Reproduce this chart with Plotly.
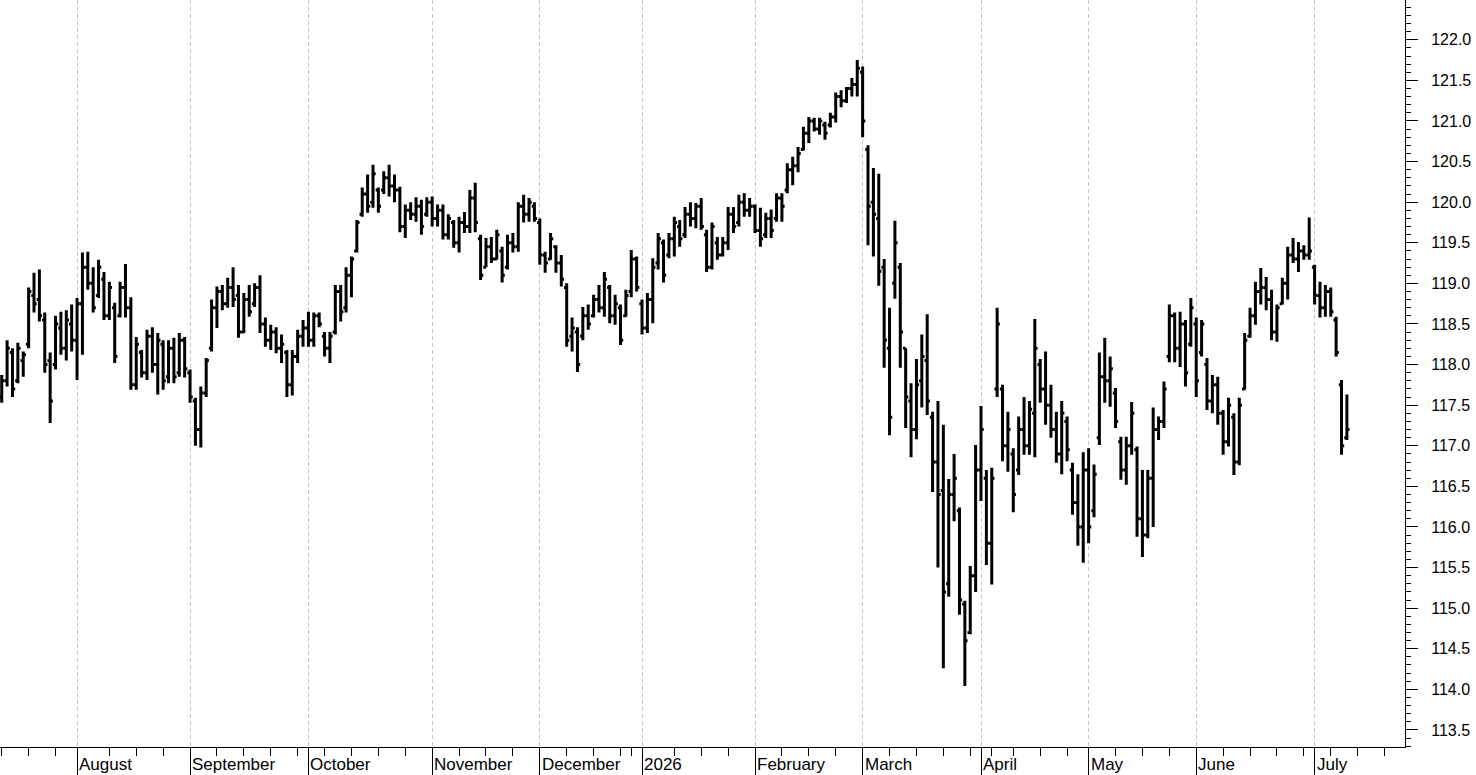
import pandas as pd
import plotly.graph_objects as go

# ---------------- data ----------------
HOLIDAYS = ["2025-12-24", "2025-12-25", "2025-12-26", "2025-12-31",
            "2026-01-01", "2026-04-03", "2026-04-06", "2026-05-01"]
CAL_START = "2025-07-14"
CAL_END = "2026-07-31"

high = [117.87, 118.30, 118.20, 118.27, 118.16, 118.95, 119.13, 119.17, 118.64, 118.15,
        118.60, 118.65, 118.67, 118.74, 118.82, 119.38, 119.39, 119.20, 119.29, 119.14,
        119.02, 118.76, 119.02, 119.24, 118.83, 118.34, 118.18, 118.43, 118.46, 118.39,
        118.30, 118.30, 118.33, 118.39, 118.34, 117.94, 117.59, 117.73, 118.08, 118.80,
        118.96, 118.98, 119.07, 119.20, 118.98, 118.88, 118.98, 119.00, 119.10, 118.58,
        118.49, 118.46, 118.37, 118.18, 118.18, 118.43, 118.55, 118.65, 118.64, 118.64,
        118.40, 118.40, 118.98, 118.98, 119.20, 119.33, 119.78, 120.18, 120.34, 120.46,
        120.18, 120.38, 120.46, 120.34, 120.19, 119.97, 120.00, 120.06, 120.03, 120.06,
        120.07, 119.97, 119.97, 119.85, 119.78, 119.82, 119.88, 120.15, 120.24, 119.60,
        119.56, 119.57, 119.66, 119.45, 119.60, 119.62, 120.00, 120.09, 120.05, 120.00,
        119.80, 119.39, 119.62, 119.47, 119.35, 119.00, 118.58, 118.46, 118.71, 118.74,
        118.86, 118.98, 119.14, 118.98, 118.86, 118.74, 118.92, 119.41, 119.33, 118.80,
        118.88, 119.31, 119.62, 119.54, 119.62, 119.82, 119.78, 119.94, 120.00, 119.99,
        120.05, 119.66, 119.75, 119.57, 119.57, 119.94, 119.94, 120.09, 120.11, 120.05,
        119.97, 119.93, 119.87, 119.91, 120.11, 120.11, 120.48, 120.56, 120.68, 120.93,
        121.05, 121.04, 121.04, 120.99, 121.10, 121.35, 121.38, 121.42, 121.53, 121.75,
        121.67, 120.70, 120.42, 120.35, 119.30, 118.70, 119.77, 119.25, 118.20, 117.77,
        118.07, 118.37, 118.62, 117.42, 117.55, 117.26, 116.59, 116.90, 116.24, 115.09,
        115.52, 117.01, 117.49, 116.70, 116.73, 118.70, 117.75, 117.42, 116.97, 117.36,
        117.60, 117.55, 118.56, 118.07, 118.16, 117.75, 117.42, 117.55, 117.36, 116.79,
        116.65, 116.92, 116.97, 116.77, 118.15, 118.33, 118.10, 117.71, 117.11, 117.11,
        117.54, 116.99, 116.70, 116.70, 117.47, 117.36, 117.79, 118.74, 118.64, 118.65,
        118.55, 118.82, 118.58, 118.55, 118.08, 117.87, 117.85, 117.44, 117.59, 117.40,
        117.59, 118.39, 118.70, 119.02, 119.19, 119.08, 118.92, 118.74, 119.07, 119.45,
        119.56, 119.51, 119.47, 119.81, 119.23, 119.02, 118.98, 118.95, 118.59, 117.81,
        117.63]

low = [117.53, 117.73, 117.60, 117.77, 117.85, 118.20, 118.64, 118.53, 117.90, 117.28,
       117.94, 118.12, 118.05, 118.16, 117.81, 118.12, 118.92, 118.64, 118.82, 118.55,
       118.55, 118.02, 118.58, 118.58, 117.69, 117.69, 117.84, 117.81, 117.90, 117.63,
       117.69, 117.77, 117.77, 117.85, 117.84, 117.53, 117.00, 116.98, 117.60, 118.16,
       118.45, 118.67, 118.70, 118.71, 118.33, 118.39, 118.59, 118.71, 118.39, 118.22,
       118.18, 118.14, 118.02, 117.60, 117.62, 118.02, 118.22, 118.22, 118.22, 118.46,
       118.10, 118.02, 118.37, 118.53, 118.64, 118.83, 119.38, 119.82, 119.87, 119.93,
       119.87, 120.10, 120.07, 120.00, 119.63, 119.56, 119.78, 119.76, 119.60, 119.82,
       119.70, 119.70, 119.54, 119.54, 119.44, 119.38, 119.62, 119.62, 119.63, 119.04,
       119.20, 119.25, 119.29, 119.01, 119.17, 119.38, 119.39, 119.75, 119.76, 119.76,
       119.23, 119.13, 119.29, 119.13, 118.96, 118.22, 118.16, 117.91, 118.30, 118.43,
       118.58, 118.64, 118.59, 118.51, 118.49, 118.24, 118.59, 118.83, 118.90, 118.37,
       118.39, 118.51, 119.17, 119.01, 119.31, 119.33, 119.45, 119.56, 119.70, 119.68,
       119.66, 119.14, 119.17, 119.29, 119.33, 119.41, 119.62, 119.70, 119.82, 119.82,
       119.62, 119.45, 119.56, 119.56, 119.76, 119.76, 120.11, 120.21, 120.37, 120.64,
       120.73, 120.87, 120.83, 120.77, 120.92, 120.98, 121.17, 121.22, 121.30, 121.30,
       120.80, 119.47, 119.33, 118.97, 117.96, 117.13, 118.81, 117.96, 117.22, 116.86,
       117.08, 117.47, 117.38, 116.43, 115.50, 114.26, 115.14, 116.07, 114.92, 114.04,
       114.68, 115.20, 116.32, 115.53, 115.29, 117.60, 116.81, 116.68, 116.18, 116.64,
       116.89, 116.89, 116.86, 117.53, 117.26, 117.10, 116.79, 116.65, 116.81, 116.15,
       115.77, 115.56, 115.80, 116.12, 117.01, 117.53, 117.48, 117.22, 116.58, 116.52,
       116.89, 115.88, 115.63, 115.86, 116.00, 117.07, 117.22, 118.03, 118.03, 117.97,
       117.73, 118.22, 117.60, 118.10, 117.44, 117.40, 117.26, 116.89, 116.99, 116.64,
       116.76, 117.69, 118.33, 118.49, 118.74, 118.67, 118.30, 118.28, 118.74, 118.80,
       119.25, 119.14, 119.29, 119.29, 118.74, 118.58, 118.59, 118.59, 118.10, 116.89,
       117.07]

open_ = [117.60, 117.80, 118.15, 117.80, 118.05, 118.25, 118.85, 118.80, 118.55, 118.05,
         118.00, 118.45, 118.20, 118.50, 118.30, 118.75, 119.20, 119.00, 118.85, 119.05,
         118.60, 118.70, 118.60, 118.95, 118.70, 117.75, 118.15, 117.90, 118.35, 118.00,
         118.25, 117.85, 118.20, 117.90, 118.30, 117.90, 117.55, 117.20, 117.65, 118.20,
         118.70, 118.90, 118.75, 118.95, 118.85, 118.40, 118.80, 118.75, 118.95, 118.50,
         118.30, 118.40, 118.20, 118.15, 117.75, 118.10, 118.35, 118.45, 118.30, 118.60,
         118.35, 118.20, 118.40, 118.90, 118.70, 119.10, 119.40, 119.85, 120.10, 120.00,
         120.15, 120.15, 120.30, 120.20, 120.15, 119.70, 119.90, 119.85, 119.95, 119.85,
         120.00, 119.80, 119.90, 119.60, 119.75, 119.50, 119.75, 119.70, 120.05, 119.55,
         119.20, 119.45, 119.30, 119.40, 119.20, 119.50, 119.45, 119.95, 119.85, 119.95,
         119.75, 119.35, 119.30, 119.45, 119.25, 118.95, 118.35, 118.40, 118.35, 118.60,
         118.60, 118.80, 118.70, 118.95, 118.60, 118.70, 118.60, 118.90, 119.30, 118.75,
         118.45, 118.80, 119.25, 119.50, 119.35, 119.55, 119.70, 119.60, 119.85, 119.80,
         119.95, 119.60, 119.20, 119.50, 119.35, 119.50, 119.85, 119.75, 120.00, 119.90,
         119.95, 119.65, 119.60, 119.80, 119.80, 120.05, 120.15, 120.40, 120.45, 120.65,
         120.85, 121.00, 120.90, 120.95, 120.95, 121.05, 121.30, 121.25, 121.40, 121.45,
         121.60, 120.65, 120.00, 119.80, 119.20, 118.20, 119.00, 119.20, 118.20, 117.55,
         117.20, 117.80, 118.05, 117.35, 116.80, 116.45, 115.30, 116.40, 116.20, 115.05,
         114.70, 115.40, 116.70, 116.60, 115.80, 117.70, 117.70, 117.00, 116.90, 116.70,
         117.20, 117.00, 117.40, 118.00, 117.70, 117.50, 117.20, 116.90, 117.30, 116.70,
         116.30, 116.00, 116.70, 116.20, 117.10, 117.85, 117.80, 117.65, 117.05, 116.70,
         117.00, 116.95, 116.10, 115.90, 116.60, 117.20, 117.30, 118.10, 118.60, 118.20,
         118.50, 118.25, 118.50, 118.15, 118.00, 117.55, 117.75, 117.40, 117.05, 117.35,
         116.80, 117.70, 118.35, 118.60, 118.90, 118.95, 118.80, 118.40, 118.75, 119.00,
         119.35, 119.30, 119.40, 119.35, 119.20, 118.85, 118.70, 118.90, 118.55, 117.75,
         117.10]

close = [117.80, 118.20, 117.70, 118.20, 118.12, 118.90, 118.75, 118.60, 118.00, 117.55,
         118.50, 118.20, 118.55, 118.30, 118.75, 119.20, 119.00, 118.70, 119.20, 118.60,
         118.95, 118.10, 118.95, 118.70, 117.75, 118.25, 117.90, 118.35, 118.00, 118.30,
         117.80, 118.20, 117.85, 118.30, 117.95, 117.60, 117.20, 117.65, 118.05, 118.70,
         118.90, 118.75, 118.95, 118.80, 118.40, 118.80, 118.65, 118.95, 118.50, 118.30,
         118.40, 118.20, 118.25, 117.75, 118.10, 118.35, 118.45, 118.30, 118.60, 118.50,
         118.20, 118.35, 118.90, 118.65, 119.10, 119.30, 119.75, 120.10, 119.95, 120.35,
         119.95, 120.30, 120.20, 120.15, 119.70, 119.90, 119.85, 119.95, 119.70, 120.00,
         119.80, 119.90, 119.60, 119.80, 119.50, 119.75, 119.70, 120.05, 119.75, 119.10,
         119.45, 119.30, 119.60, 119.10, 119.50, 119.45, 119.95, 119.85, 120.00, 119.80,
         119.35, 119.25, 119.55, 119.25, 119.05, 118.30, 118.45, 118.00, 118.60, 118.50,
         118.80, 118.70, 119.05, 118.60, 118.75, 118.30, 118.85, 119.30, 118.95, 118.45,
         118.80, 119.20, 119.55, 119.10, 119.55, 119.75, 119.55, 119.85, 119.80, 119.95,
         119.70, 119.20, 119.70, 119.35, 119.50, 119.85, 119.70, 120.00, 119.90, 119.95,
         119.65, 119.55, 119.80, 119.65, 120.05, 119.95, 120.40, 120.45, 120.60, 120.85,
         121.00, 120.90, 121.00, 120.85, 121.05, 121.30, 121.25, 121.40, 121.45, 121.65,
         121.00, 119.95, 119.85, 119.15, 118.30, 117.35, 119.50, 118.40, 117.60, 117.20,
         117.75, 118.10, 117.55, 116.80, 116.40, 115.20, 116.40, 116.60, 115.10, 114.60,
         115.40, 116.70, 117.20, 115.80, 116.60, 118.50, 117.00, 117.20, 116.40, 117.20,
         117.00, 117.45, 118.20, 117.70, 117.50, 117.20, 116.90, 117.40, 116.95, 116.30,
         116.00, 116.70, 116.00, 116.65, 117.85, 117.80, 117.95, 117.30, 116.70, 117.00,
         117.40, 116.10, 115.90, 116.60, 117.20, 117.30, 117.70, 118.60, 118.20, 118.50,
         117.90, 118.70, 117.80, 118.50, 117.55, 117.75, 117.40, 117.05, 117.50, 116.80,
         117.50, 118.30, 118.60, 118.90, 118.95, 118.80, 118.40, 118.70, 119.00, 119.35,
         119.30, 119.40, 119.35, 119.40, 118.85, 118.70, 118.90, 118.65, 118.15, 117.00,
         117.20]

Y_MAJOR = [113.5 + 0.5 * k for k in range(18)]

# ---------------- calendar / axis helpers ----------------
calendar = [d for d in pd.bdate_range(CAL_START, CAL_END)
            if d.strftime("%Y-%m-%d") not in HOLIDAYS]
n = len(close)
xpos = list(range(n))

X_MIN, X_MAX = -0.32, 260.8
Y_MIN, Y_MAX = 113.29, 122.49

month_idx = [i for i in range(1, len(calendar))
             if calendar[i].month != calendar[i - 1].month and i <= X_MAX]
week_idx = [i for i in range(len(calendar))
            if (i == 0 or calendar[i].isocalendar()[1] != calendar[i - 1].isocalendar()[1])
            and i <= X_MAX and all(abs(i - m) > 1 for m in month_idx)]

def month_label(d):
    return str(d.year) if d.month == 1 else d.strftime("%B")

FONT = "Liberation Sans, Arial, sans-serif"

fig = go.Figure()
fig.add_trace(go.Ohlc(
    x=xpos, open=open_, high=high, low=low, close=close,
    increasing=dict(line=dict(color="black", width=3)),
    decreasing=dict(line=dict(color="black", width=3)),
    tickwidth=0.5, hoverinfo="skip", showlegend=False,
))

for m in month_idx:
    fig.add_annotation(
        x=m, y=0, xref="x", yref="paper", text=month_label(calendar[m]),
        showarrow=False, xanchor="left", yanchor="middle", xshift=0, yshift=-17,
        font=dict(family=FONT, size=17, color="black"),
    )

fig.update_layout(
    width=1476, height=775,
    margin=dict(l=0, r=71, t=0, b=28),
    paper_bgcolor="white", plot_bgcolor="white",
    font=dict(family=FONT, size=16, color="black"),
    showlegend=False,
    xaxis=dict(
        range=[X_MIN, X_MAX], rangeslider=dict(visible=False),
        tickmode="array", tickvals=month_idx, showticklabels=False,
        ticks="outside", ticklen=28, tickcolor="black", tickwidth=1,
        minor=dict(tickmode="array", tickvals=week_idx, ticks="outside",
                   ticklen=8, tickcolor="black", tickwidth=1, showgrid=False),
        showgrid=True, gridcolor="#c4c4c4", gridwidth=1, griddash="4px,3px",
        showline=True, linecolor="black", linewidth=1, mirror=True,
        zeroline=False, fixedrange=True,
    ),
    yaxis=dict(
        range=[Y_MIN, Y_MAX], side="right",
        tickmode="array", tickvals=Y_MAJOR,
        ticktext=[f"{v:.1f}" for v in Y_MAJOR],
        ticks="outside", ticklen=12, tickcolor="black", tickwidth=1,
        minor=dict(dtick=0.1, tick0=113.5, ticks="outside", ticklen=5,
                   tickcolor="black", tickwidth=1, showgrid=False),
        showgrid=False, showline=True, linecolor="black", linewidth=1,
        zeroline=False, ticklabelstandoff=10,
        tickfont=dict(family=FONT, size=16, color="black"),
    ),
)

fig.write_html("out.html", config={"displayModeBar": False},
               post_script="document.body.style.margin='0';document.body.style.overflow='hidden';")
